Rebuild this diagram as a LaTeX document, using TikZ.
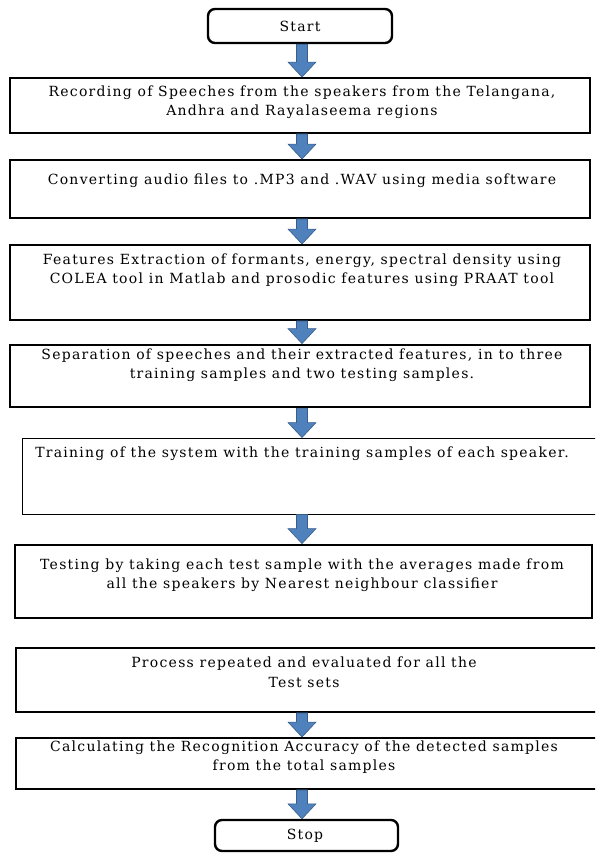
\documentclass[tikz,border=0pt]{standalone}
\usepackage{fontspec}
\setmainfont{DejaVu Serif}[LetterSpace=9]
\usetikzlibrary{calc}
\definecolor{arrowblue}{HTML}{4F81BD}
\definecolor{arrowedge}{HTML}{385D8A}
\begin{document}
\begin{tikzpicture}[x=1pt,y=-1pt,
  box/.style={draw=black, line width=1.9pt, fill=white, rectangle, inner sep=0pt},
  thickbox/.style={box, line width=2.8pt},
  thinbox/.style={box, line width=0.9pt},
  termbox/.style={box, line width=2.4pt, rounded corners=7pt},
  txt/.style={inner sep=0pt, align=center, font={\fontsize{14}{19.5}\selectfont}},
  blockarrow/.style={draw=arrowedge, fill=arrowblue, line width=0.6pt, line join=miter,
    to path={let \p1=(\tikztostart), \p2=(\tikztotarget) in
      (\x1-5.5pt,\y1) -- (\x1+5.5pt,\y1) -- (\x1+5.5pt,\y2+15pt) -- (\x1+14pt,\y2+15pt)
      -- (\x1,\y2) -- (\x1-14pt,\y2+15pt) -- (\x1-5.5pt,\y2+15pt) -- cycle}}]
\clip (0,0) rectangle (595,854);
\fill[white] (0,0) rectangle (595,854);
\coordinate (axis) at (302,0);

% boxes
\node[termbox, minimum width=184pt, minimum height=34pt] (start) at (300,26) {};
\node[box, minimum width=580pt, minimum height=55pt] (b1) at (300,105.5) {};
\node[box, minimum width=580pt, minimum height=58pt] (b2) at (300,189) {};
\node[box, minimum width=580pt, minimum height=75pt] (b3) at (300,282.5) {};
\node[thickbox, minimum width=580pt, minimum height=62pt] (b4) at (300,376) {};
\node[thinbox, minimum width=580pt, minimum height=76pt] (b5) at (312,476) {};
\node[thickbox, minimum width=577pt, minimum height=73pt] (b6) at (303.5,581.5) {};
\node[box, minimum width=586pt, minimum height=64pt] (b7) at (309,680) {};
\node[box, minimum width=586pt, minimum height=51pt] (b8) at (309,763.5) {};
\node[termbox, minimum width=183pt, minimum height=31pt] (stop) at (306.5,835.5) {};

% texts
\node[txt] (tstart) at (300,26) {Start};
\node[txt] (t1) at (302,102) {Recording of Speeches from the speakers from the Telangana,\\Andhra and Rayalaseema regions};
\node[txt] (t2) at (302,181) {Converting audio files to .MP3 and .WAV using media software};
\node[txt] (t3) at (302,270) {Features Extraction of formants, energy, spectral density using\\COLEA tool in Matlab and prosodic features using PRAAT tool};
\node[txt] (t4) at (302,365) {Separation of speeches and their extracted features, in to three\\training samples and two testing samples.};
\node[txt] (t5) at (302,454) {Training of the system with the training samples of each speaker.};
\node[txt] (t6) at (302,575) {Testing by taking each test sample with the averages made from\\all the speakers by Nearest neighbour classifier};
\node[txt] (t7) at (304,672.5) {Process repeated and evaluated for all the\\Test sets};
\node[txt] (t8) at (304,757) {Calculating the Recognition Accuracy of the detected samples\\from the total samples};
\node[txt] (tstop) at (305,836) {Stop};

% arrows
\draw[blockarrow] (start.south -| axis) to (b1.north -| axis);
\draw[blockarrow] (b1.south -| axis) to (b2.north -| axis);
\draw[blockarrow] (b2.south -| axis) to (b3.north -| axis);
\draw[blockarrow] (b3.south -| axis) to (b4.north -| axis);
\draw[blockarrow] (b4.south -| axis) to (b5.north -| axis);
\draw[blockarrow] (b5.south -| axis) to (b6.north -| axis);
\draw[blockarrow] (b7.south -| axis) to (b8.north -| axis);
\draw[blockarrow] (b8.south -| axis) to (stop.north -| axis);
\end{tikzpicture}
\end{document}
